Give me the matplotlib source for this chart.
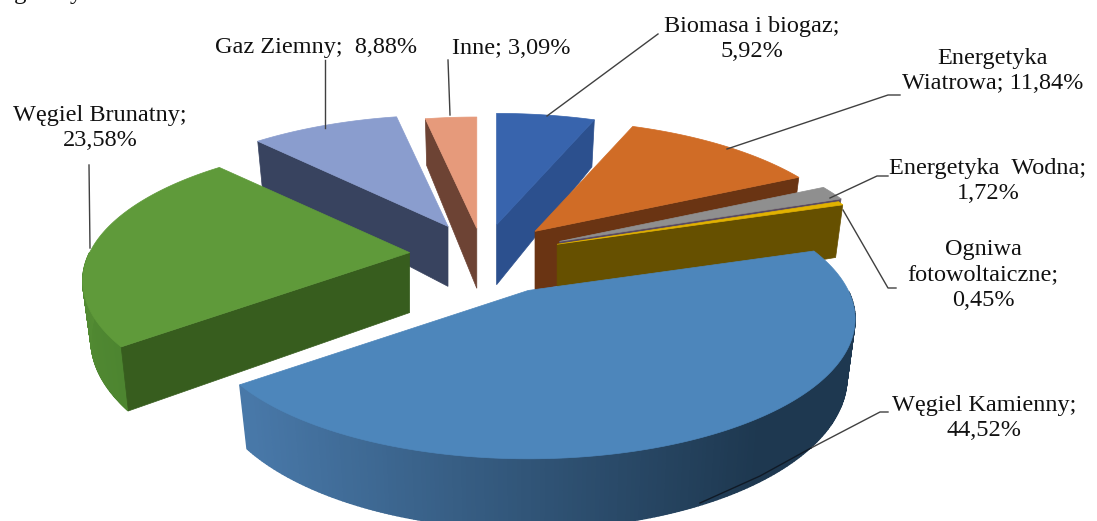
import numpy as np
import matplotlib
matplotlib.use('Agg')
import matplotlib.pyplot as plt
from matplotlib.colors import LinearSegmentedColormap

# slices, clockwise from twelve o'clock
names = ['Biomasa i biogaz', 'Energetyka Wiatrowa', 'Energetyka Wodna', 'Ogniwa fotowoltaiczne',
         'Węgiel Kamienny', 'Węgiel Brunatny', 'Gaz Ziemny', 'Inne']
values = [5.92, 11.84, 1.72, 0.45, 44.52, 23.58, 8.88, 3.09]

explode = [0.23, 0.24, 0.26, 0.245, 0.30, 0.23, 0.24, 0.20]
top_colors = ['#3864ad', '#d06c26', '#8f8f8f', '#e2b200', '#4d86bb', '#5f9a3a', '#8a9dce', '#e69a7b']
wall_colors = ['#2c508e', '#6a3413', '#5a4a60', '#665000', '#1e3850', '#375d1e', '#38435f', '#6d4334']
rim_colors = [('#2c508e', '#2c508e'), ('#6a3413', '#6a3413'), ('#5a4a60', '#5a4a60'), ('#665000', '#665000'),
              ('#1e3850', '#4878a8'), ('#4d8530', '#5c9638'), ('#38435f', '#38435f'), ('#6d4334', '#6d4334')]
draw_order = [7, 0, 6, 1, 2, 3, 5, 4]

# label templates, the value goes in the {}
label_text = ['Biomasa i biogaz;\n{}', 'Energetyka\nWiatrowa; {}', 'Energetyka  Wodna;\n{}',
              'Ogniwa\nfotowoltaiczne;\n{}', 'Węgiel Kamienny;\n{}', 'Węgiel Brunatny;\n{}',
              'Gaz Ziemny;  {}', 'Inne; {}']
label_pos = [(752, 39), (993, 71), (988, 181), (983, 275), (984, 418), (100, 128), (316, 48), (511, 48)]
leaders = [[(547, 116), (658, 34)],
           [(727, 149), (888, 95), (900, 95)],
           [(830, 198), (877, 176), (888, 176)],
           [(843, 210), (888, 288), (896, 288)],
           [(811, 448), (880, 412), (888, 412)],
           [(90, 248), (89, 165)],
           [(325, 128), (325, 60)],
           [(450, 115), (448, 60)]]
# the part of the last leader that runs along the rim of the big slice
rim_leader = [(700, 503), (760, 476), (811, 448)]

# projection of the tilted pie, in pixels
CENTER = (483, 255)
RX, RY = 320, 134
PERSP = 0.204
DEPTH_APEX = 60
DEPTH_RIM = 56
SHRINK = 0.975
RIM_STEPS = 240

plt.rcParams['font.family'] = ['Liberation Serif', 'DejaVu Serif']

fig = plt.figure(figsize=(10.97, 5.21), dpi=100)
ax = fig.add_axes([0, 0, 1, 1])
ax.set_xlim(0, 1097)
ax.set_ylim(521, 0)
ax.axis('off')


def rim_offset(theta):
    u, v = np.sin(theta), np.cos(theta)
    s = 1 / (1 + PERSP * v)
    return RX * u * s, -RY * v * s, s


def draw_slice(i, t0, t1):
    mid = (t0 + t1) / 2
    ax_x = CENTER[0] + explode[i] * RX * np.sin(mid)
    ax_y = CENTER[1] - explode[i] * RY * np.cos(mid)

    thetas = np.linspace(t0, t1, RIM_STEPS)
    dx, dy, s = rim_offset(thetas)
    xt, yt = ax_x + dx, ax_y + dy
    xb, yb = ax_x + SHRINK * dx, ax_y + dy + DEPTH_RIM * s

    # outer rim in thin strips so that it can shade from one end to the other
    cmap = LinearSegmentedColormap.from_list('rim', rim_colors[i])
    for j in range(len(thetas) - 1):
        if np.cos(thetas[j]) > 0:
            continue  # back of the pie, hidden anyway
        if i == 4:
            c = cmap(np.clip((760 - xt[j]) / 510, 0, 1))
        else:
            c = cmap(j / (RIM_STEPS - 1))
        ax.fill([xt[j], xt[j + 1], xb[j + 1], xb[j]], [yt[j], yt[j + 1], yb[j + 1], yb[j]],
                color=c, lw=1.0, zorder=1)

    # cut faces that look towards the viewer
    if np.sin(t0) < -1e-6:
        ax.fill([ax_x, xt[0], xb[0], ax_x], [ax_y, yt[0], yb[0], ax_y + DEPTH_APEX],
                color=wall_colors[i], lw=0.5, zorder=1)
    if np.sin(t1) > 1e-6:
        ax.fill([ax_x, xt[-1], xb[-1], ax_x], [ax_y, yt[-1], yb[-1], ax_y + DEPTH_APEX],
                color=wall_colors[i], lw=0.5, zorder=1)

    ax.fill(np.r_[ax_x, xt], np.r_[ax_y, yt], color=top_colors[i], lw=0.5, zorder=1)


edges = np.radians(np.r_[0, np.cumsum(values)] / sum(values) * 360)
for i in draw_order:
    draw_slice(i, edges[i], edges[i + 1])

for line in leaders:
    xs, ys = zip(*line)
    ax.plot(xs, ys, color='#404040', lw=1.0, zorder=3)
xs, ys = zip(*rim_leader)
ax.plot(xs, ys, color='#101a26', lw=1.0, zorder=3)

for i, (x, y) in enumerate(label_pos):
    txt = label_text[i].format('{:.2f}%'.format(values[i]).replace('.', ','))
    ax.text(x, y, txt, ha='center', va='center', fontsize=17.5, color='#111111',
            linespacing=1.3, zorder=4)

# bottom of the caption line cut off by the crop
ax.text(20, -1, 'g', ha='center', va='baseline', fontsize=18, color='#111111')
ax.text(76, -1, 'y', ha='center', va='baseline', fontsize=18, color='#111111')

fig.savefig('out.png', dpi=100)
